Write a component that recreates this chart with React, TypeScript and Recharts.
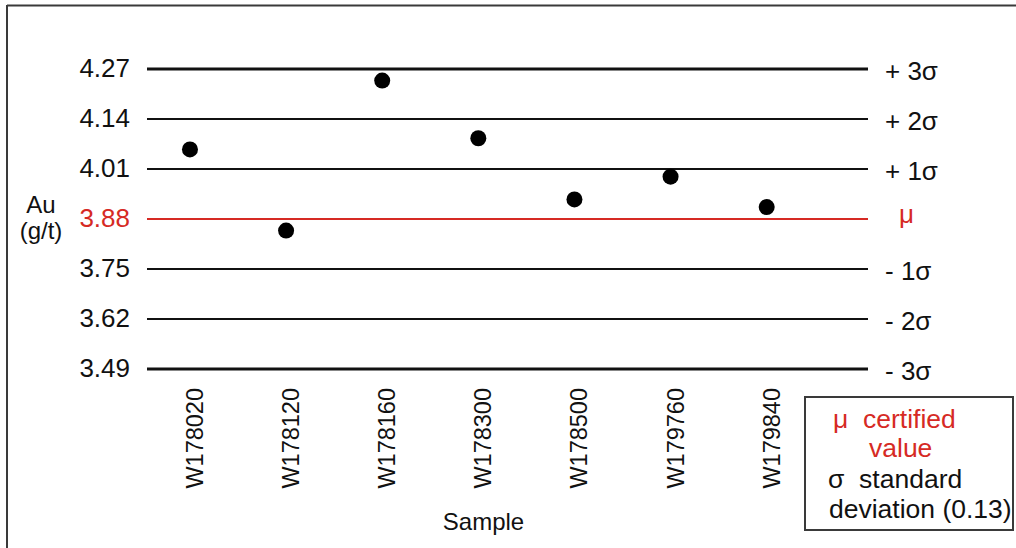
import React from "react";
import {
  ScatterChart,
  Scatter,
  XAxis,
  YAxis,
  ReferenceLine,
  Label,
} from "recharts";

const samples = [
  "W178020",
  "W178120",
  "W178160",
  "W178300",
  "W178500",
  "W179760",
  "W179840",
];
const auValues = [4.061, 3.85, 4.24, 4.09, 3.931, 3.99, 3.911];
const yTicks = [3.49, 3.62, 3.75, 3.88, 4.01, 4.14, 4.27];
const sigmaLabels = ["- 3σ", "- 2σ", "- 1σ", "μ", "+ 1σ", "+ 2σ", "+ 3σ"];
const certifiedValue = 3.88;
const sampleIdx = [0, 1, 2, 3, 4, 5, 6];

const font = "'Liberation Sans', Arial, Helvetica, sans-serif";
const red = "#d62a24";
const ink = "#111111";

const data = samples.map((s, i) => ({ idx: sampleIdx[i], sample: s, au: auValues[i] }));

const LeftTick = (props: any) => {
  const { x, y, payload } = props;
  const isMu = payload.value === certifiedValue;
  return (
    <text
      x={x - 17}
      y={y}
      dy="0.32em"
      textAnchor="end"
      fontSize={26}
      fontFamily={font}
      fill={isMu ? red : ink}
    >
      {payload.value.toFixed(2)}
    </text>
  );
};

// sigma labels drawn at the right end of each reference line
const sigmaLabel = (i: number) => (p: any) => {
  const isMu = yTicks[i] === certifiedValue;
  const vb = p.viewBox;
  return (
    <text
      x={vb.x + vb.width + (isMu ? 31 : 17)}
      y={vb.y}
      dy={isMu ? "0.16em" : "0.42em"}
      textAnchor="start"
      fontSize={26}
      fontFamily={font}
      fill={isMu ? red : ink}
    >
      {sigmaLabels[i]}
    </text>
  );
};

const BottomTick = (props: any) => {
  const { x, y, payload } = props;
  return (
    <text
      transform={`translate(${x + 13},${y + 19}) rotate(-90)`}
      textAnchor="end"
      fontSize={23.5}
      fontFamily={font}
      fill={ink}
    >
      {samples[payload.value]}
    </text>
  );
};

const App = () => {
  return (
    <div
      style={{
        position: "absolute",
        left: 0,
        top: 0,
        width: 1016,
        height: 548,
        overflow: "hidden",
        background: "#fff",
      }}
    >
      <ScatterChart
        width={1016}
        height={548}
        margin={{ top: 69, right: 148, bottom: 0, left: 0 }}
      >
        <XAxis
          type="number"
          dataKey="idx"
          domain={[-0.447, 7.054]}
          allowDataOverflow
          ticks={sampleIdx}
          height={179}
          axisLine={false}
          tickLine={false}
          tickSize={0}
          tickMargin={0}
          tick={<BottomTick />}
          interval={0}
        >
          <Label
            content={(p: any) => (
              <text
                x={p.viewBox.x + p.viewBox.width / 2 - 24}
                y={530}
                textAnchor="middle"
                fontSize={24}
                fontFamily={font}
                fill={ink}
              >
                Sample
              </text>
            )}
          />
        </XAxis>
        <YAxis
          yAxisId="left"
          type="number"
          dataKey="au"
          domain={[3.49, 4.27]}
          ticks={yTicks}
          width={147}
          axisLine={false}
          tickLine={false}
          tickSize={0}
          tickMargin={0}
          tick={<LeftTick />}
          interval={0}
        >
          <Label
            content={() => (
              <text textAnchor="middle" fontSize={24} fontFamily={font} fill={ink}>
                <tspan x={41} y={213}>Au</tspan>
                <tspan x={41} y={239}>(g/t)</tspan>
              </text>
            )}
          />
        </YAxis>
        {yTicks.map((v, i) => (
          <ReferenceLine
            key={v}
            yAxisId="left"
            y={v}
            stroke={v === certifiedValue ? red : ink}
            strokeWidth={i === 0 || i === yTicks.length - 1 ? 3 : 2}
            label={sigmaLabel(i)}
          />
        ))}
        <Scatter
          yAxisId="left"
          data={data}
          isAnimationActive={false}
          shape={(p: any) => <circle cx={p.cx} cy={p.cy} r={8} fill="#000" />}
        />
      </ScatterChart>
      <svg
        width={1016}
        height={548}
        style={{ position: "absolute", left: 0, top: 0, pointerEvents: "none" }}
      >
        <line x1={7} y1={5.5} x2={1016} y2={5.5} stroke="#3a3a3a" strokeWidth={2} />
        <line x1={7} y1={5} x2={7} y2={548} stroke="#3a3a3a" strokeWidth={2} />
        <rect x={805} y={397} width={208} height={133} fill="#fff" stroke="#3a3a3a" strokeWidth={2} />
        <g fontSize={26.5} fontFamily={font}>
          <text x={833} y={428} fill={red} xmlSpace="preserve">μ  certified</text>
          <text x={869} y={457} fill={red}>value</text>
          <text x={828} y={488} fill={ink} xmlSpace="preserve">σ  standard</text>
          <text x={829} y={518} fill={ink}>deviation (0.13)</text>
        </g>
      </svg>
    </div>
  );
};

export default App;
